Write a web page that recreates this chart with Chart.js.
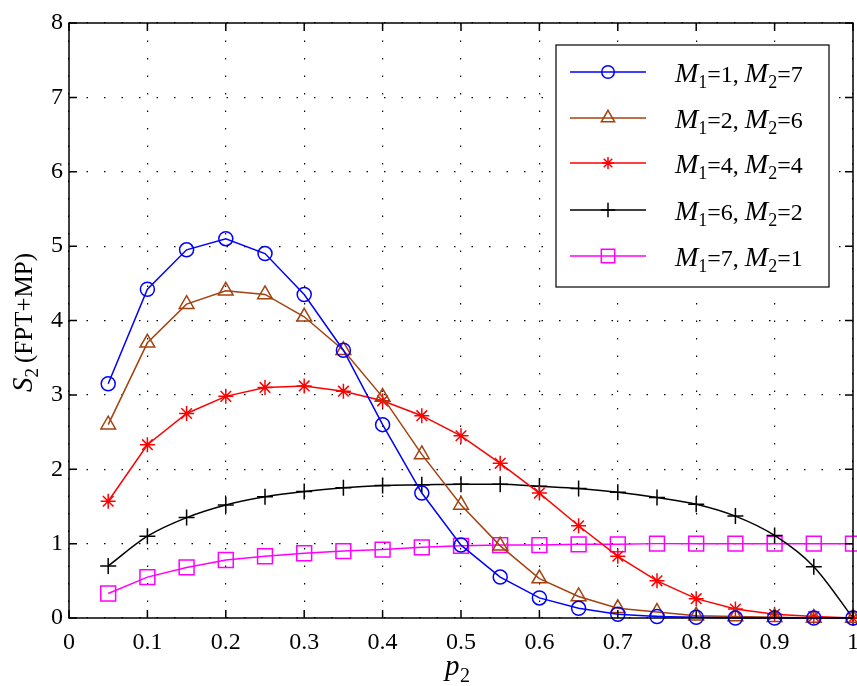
<!DOCTYPE html>
<html>
<head>
<meta charset="utf-8">
<script src="https://cdn.jsdelivr.net/npm/chart.js@4.4.1/dist/chart.umd.min.js"></script>
<style>
  html, body { margin: 0; padding: 0; background: #fff; overflow: hidden; }
  #wrap { width: 857px; height: 686px; }
  canvas { display: block; }
</style>
</head>
<body>
<div id="wrap"><canvas id="js-chart" width="857" height="686"></canvas></div>
<script>
// x values (p2)
const P2 = [0.05, 0.1, 0.15, 0.2, 0.25, 0.3, 0.35, 0.4, 0.45, 0.5,
            0.55, 0.6, 0.65, 0.7, 0.75, 0.8, 0.85, 0.9, 0.95, 1.0];

// S2 values
const M1_1 = [3.15, 4.42, 4.95, 5.10, 4.90, 4.35, 3.60, 2.60, 1.68, 0.98,
              0.55, 0.27, 0.13, 0.05, 0.02, 0.01, 0.00, 0.00, 0.00, 0.00];
const M1_2 = [2.60, 3.70, 4.22, 4.40, 4.35, 4.05, 3.60, 2.97, 2.20, 1.52,
              0.97, 0.53, 0.29, 0.13, 0.08, 0.03, 0.02, 0.01, 0.00, 0.00];
const M1_4 = [1.57, 2.33, 2.75, 2.98, 3.10, 3.12, 3.05, 2.92, 2.72, 2.45,
              2.08, 1.68, 1.24, 0.83, 0.50, 0.26, 0.12, 0.05, 0.02, 0.00];
const M1_6 = [0.70, 1.10, 1.35, 1.52, 1.63, 1.70, 1.75, 1.78, 1.79, 1.80,
              1.80, 1.77, 1.74, 1.69, 1.62, 1.53, 1.37, 1.11, 0.69, 0.00];
const M1_7 = [0.33, 0.55, 0.68, 0.78, 0.83, 0.87, 0.90, 0.92, 0.95, 0.97,
              0.98, 0.98, 0.99, 0.99, 1.00, 1.00, 1.00, 1.00, 1.00, 1.00];

const X_TICKS = ['0', '0.1', '0.2', '0.3', '0.4', '0.5', '0.6', '0.7', '0.8', '0.9', '1'];
const Y_TICKS = ['0', '1', '2', '3', '4', '5', '6', '7', '8'];

// legend: [M1, M2]
const LEGEND = [['1', '7'], ['2', '6'], ['4', '4'], ['6', '2'], ['7', '1']];

const SERIF = '"Liberation Serif", "DejaVu Serif", serif';

function toPoints(arr) {
  return arr.map((v, i) => ({ x: P2[i], y: v }));
}

function series(data, color, style, radius) {
  return {
    data: toPoints(data),
    borderColor: color,
    borderWidth: 1.5,
    pointStyle: style,
    pointRadius: radius,
    pointHoverRadius: radius,
    pointBorderColor: color,
    pointBackgroundColor: 'rgba(0,0,0,0)',
    pointBorderWidth: 1.5,
    tension: 0,
    clip: false,
  };
}

const datasets = [
  series(M1_1, '#0000ff', 'circle', 7),
  series(M1_2, '#a4420e', 'triangle', 8.5),
  series(M1_4, '#ff0000', 'star', 7.5),
  series(M1_6, '#000000', 'cross', 8),
  series(M1_7, '#ff00ff', 'rect', 10.5),
];
datasets[3].cubicInterpolationMode = 'monotone';

// рамка, тики внутрь, подписи осей и легенда
const overlay = {
  id: 'overlay',
  afterDraw(chart) {
    const ctx = chart.ctx;
    const a = chart.chartArea;
    const xs = chart.scales.x, ys = chart.scales.y;
    ctx.save();
    ctx.strokeStyle = '#000';
    ctx.lineWidth = 1.5;
    ctx.setLineDash([]);
    ctx.strokeRect(a.left, a.top, a.right - a.left, a.bottom - a.top);

    // inward ticks
    ctx.beginPath();
    X_TICKS.forEach((t, i) => {
      const px = xs.getPixelForValue(i / 10);
      ctx.moveTo(px, a.bottom); ctx.lineTo(px, a.bottom - 8);
      ctx.moveTo(px, a.top); ctx.lineTo(px, a.top + 8);
    });
    Y_TICKS.forEach((t, i) => {
      const py = ys.getPixelForValue(i);
      ctx.moveTo(a.left, py); ctx.lineTo(a.left + 8, py);
      ctx.moveTo(a.right, py); ctx.lineTo(a.right - 8, py);
    });
    ctx.stroke();

    ctx.fillStyle = '#000';
    ctx.textBaseline = 'alphabetic';

    // x tick labels
    ctx.textAlign = 'center';
    ctx.font = '24px ' + SERIF;
    X_TICKS.forEach((t, i) => {
      ctx.fillText(t, xs.getPixelForValue(i / 10), a.bottom + 31);
    });

    ctx.textAlign = 'left';
    // x title: p2
    ctx.font = 'italic 29px ' + SERIF;
    ctx.fillText('p', 445, 675);
    ctx.font = '20px ' + SERIF;
    ctx.fillText('2', 460, 682);

    // y title: S2 (FPT+MP)
    ctx.save();
    ctx.translate(32, 392);
    ctx.rotate(-Math.PI / 2);
    let cx = 0;
    ctx.font = 'italic 29px ' + SERIF;
    ctx.fillText('S', cx, 0); cx += ctx.measureText('S').width;
    ctx.font = '19px ' + SERIF;
    ctx.fillText('2', cx, 6); cx += ctx.measureText('2').width + 5;
    ctx.font = '25px ' + SERIF;
    ctx.fillText('(FPT+MP)', cx, 0);
    ctx.restore();

    // legend box
    const L = { left: 556, top: 45, right: 829, bottom: 287 };
    ctx.fillStyle = '#fff';
    ctx.fillRect(L.left, L.top, L.right - L.left, L.bottom - L.top);
    ctx.strokeStyle = '#000';
    ctx.lineWidth = 1.2;
    ctx.strokeRect(L.left, L.top, L.right - L.left, L.bottom - L.top);

    const rows = [72, 118, 163, 210, 256];
    LEGEND.forEach((m, i) => {
      const ds = chart.data.datasets[i];
      const y = rows[i];
      ctx.strokeStyle = ds.borderColor;
      ctx.lineWidth = 1.5;
      ctx.beginPath();
      ctx.moveTo(570, y); ctx.lineTo(646, y);
      ctx.stroke();
      ctx.fillStyle = 'rgba(0,0,0,0)';
      Chart.helpers.drawPoint(ctx, {
        pointStyle: ds.pointStyle,
        radius: ds.pointStyle === 'star' ? 6 : ds.pointRadius * 0.9,
        borderWidth: 1.5,
        rotation: 0,
      }, 608, y);

      ctx.fillStyle = '#000';
      let tx = 675;
      const base = y + 10;
      const parts = [
        ['italic 28px ', 'M', 0], ['18px ', '1', 6], ['24px ', '=' + m[0] + ', ', 0],
        ['italic 28px ', 'M', 0], ['18px ', '2', 6], ['24px ', '=' + m[1], 0],
      ];
      parts.forEach(([f, s, dy]) => {
        ctx.font = f + SERIF;
        ctx.fillText(s, tx, base + dy);
        tx += ctx.measureText(s).width;
      });
    });
    ctx.restore();
  },
};

const ctx = document.querySelector('#js-chart').getContext('2d');
const myChart = new Chart(ctx, {
  type: 'line',
  data: { datasets },
  options: {
    responsive: false,
    animation: false,
    layout: { autoPadding: false, padding: { left: 0, right: 4, top: 23, bottom: 0 } },
    plugins: { legend: { display: false }, tooltip: { enabled: false } },
    scales: {
      x: {
        type: 'linear',
        min: 0,
        max: 1,
        afterFit(scale) { scale.height = 68; },
        afterBuildTicks(scale) {
          scale.ticks = X_TICKS.map((t, i) => ({ value: i / 10 }));
        },
        ticks: { display: false },
        grid: { color: '#000', lineWidth: 1.2, drawTicks: false },
        border: { display: false, dash: [1.5, 16] },
      },
      y: {
        min: 0,
        max: 8,
        afterFit(scale) {
          scale.width = 69;
          scale.paddingTop = 0;
          scale.paddingBottom = 0;
        },
        afterBuildTicks(scale) {
          scale.ticks = Y_TICKS.map((t, i) => ({ value: i }));
        },
        ticks: {
          callback: (v, i) => Y_TICKS[i],
          color: '#000',
          font: { family: SERIF, size: 24 },
          padding: 6,
        },
        grid: { color: '#000', lineWidth: 1.2, drawTicks: false },
        border: { display: false, dash: [1.5, 16] },
      },
    },
  },
  plugins: [overlay],
});
</script>
</body>
</html>
